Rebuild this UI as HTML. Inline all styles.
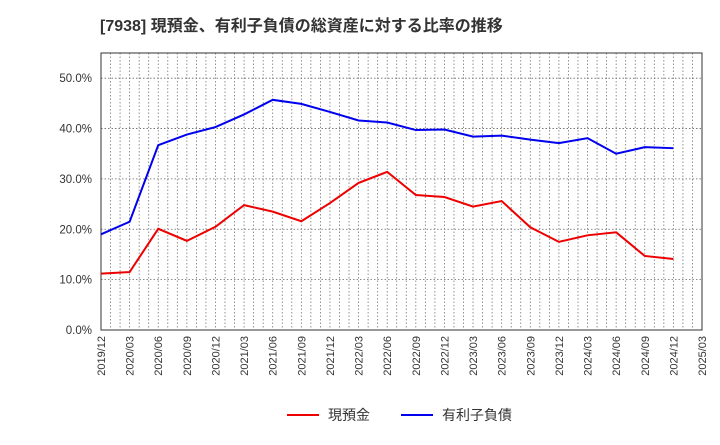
<!DOCTYPE html>
<html><head><meta charset="utf-8"><style>
body{margin:0;background:#fff;font-family:"Liberation Sans","Noto Sans CJK JP",sans-serif;}
svg text{font-family:"Liberation Sans","Noto Sans CJK JP",sans-serif;}
</style></head><body>
<svg id="chart" width="720" height="440" xmlns="http://www.w3.org/2000/svg">
<text x="100" y="31" font-size="16" font-weight="bold" fill="#333">[7938]  現預金、有利子負債の総資産に対する比率の推移</text>
<g id="grid"></g>
<rect x="101" y="53" width="601" height="277" fill="none" stroke="#333" stroke-width="1"/>
<g id="yticks"></g><g id="xticks"></g><g id="series"></g>
<g>
<line x1="287" y1="415" x2="319" y2="415" stroke="#e00" stroke-width="2"/>
<text x="328" y="420" font-size="14" fill="#333">現預金</text>
<line x1="401" y1="415" x2="433" y2="415" stroke="#00e" stroke-width="2"/>
<text x="442" y="420" font-size="14" fill="#333">有利子負債</text>
</g>
</svg>
<script>
const categories=["2019/12","2020/03","2020/06","2020/09","2020/12","2021/03","2021/06","2021/09","2021/12","2022/03","2022/06","2022/09","2022/12","2023/03","2023/06","2023/09","2023/12","2024/03","2024/06","2024/09","2024/12","2025/03"];
const cashValues=[11.2,11.5,20.1,17.7,20.5,24.8,23.5,21.6,25.2,29.2,31.4,26.8,26.4,24.5,25.6,20.4,17.5,18.8,19.4,14.7,14.1];
const debtValues=[19.0,21.5,36.7,38.8,40.3,42.8,45.7,44.9,43.3,41.6,41.2,39.7,39.8,38.4,38.6,37.8,37.1,38.1,35.0,36.3,36.1];
const yTicks=[0,10,20,30,40,50];
const NS="http://www.w3.org/2000/svg";
const x0=101,x1=702,yBase=330,yTop=53,yMax=55;
const xS=i=>x0+i*(x1-x0)/(categories.length-1);
const yS=v=>yBase-v*(yBase-yTop)/yMax;
function mk(tag,attrs,parent){const e=document.createElementNS(NS,tag);for(const k in attrs)e.setAttribute(k,attrs[k]);document.getElementById(parent).appendChild(e);return e;}
const nMonths=(categories.length-1)*3;
for(let m=1;m<nMonths;m++){
  const x=xS(m/3);
  const g=mk('line',{x1:x,x2:x,y1:yTop,y2:yBase,stroke:'#777','stroke-width':0.8,'stroke-dasharray':'1.5,2'},'grid');
  
  
}
categories.forEach((c,i)=>{
  const x=xS(i);
  const t=mk('text',{x:0,y:0,'font-size':11,fill:'#333','text-anchor':'end',transform:`translate(${x+4},${yBase+6}) rotate(-90)`},'xticks');
  t.textContent=c;
  
  
});
yTicks.forEach(v=>{
  const y=yS(v);
  if(v>0){const g=mk('line',{x1:x0,x2:x1,y1:y,y2:y,stroke:'#666','stroke-width':0.8,'stroke-dasharray':'1.5,2'},'grid');
  
  }
  const t=mk('text',{x:92,y:y+4,'font-size':11.5,fill:'#333','text-anchor':'end'},'yticks');
  t.textContent=v.toFixed(1)+'%';
  
  
});
function line(vals,color,name){
  const p=mk('polyline',{points:vals.map((v,i)=>xS(i)+','+yS(v)).join(' '),fill:'none',stroke:color,'stroke-width':2},'series');
  
  
}
line(cashValues,'#e00','cash-line');
line(debtValues,'#00e','debt-line');
</script>
</body></html>
